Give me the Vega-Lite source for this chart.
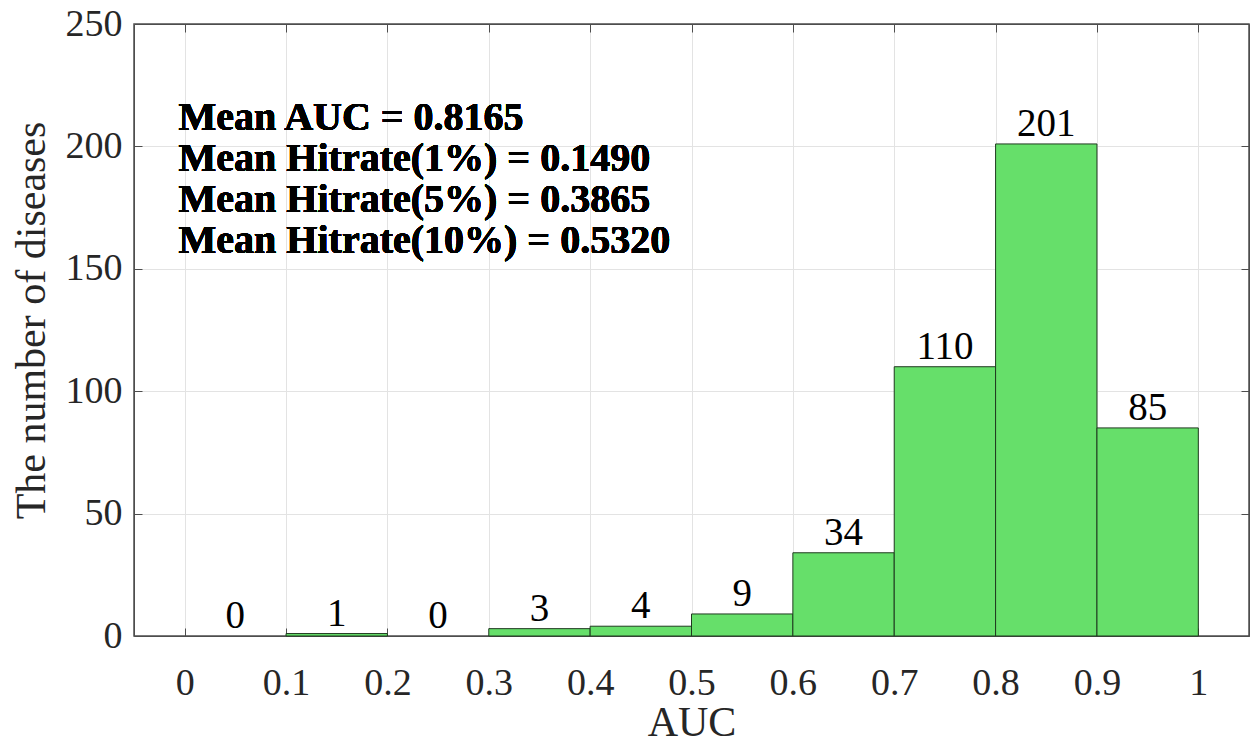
{
  "$schema": "https://vega.github.io/schema/vega-lite/v6.json",
  "autosize": "none",
  "width": 1115,
  "height": 612,
  "padding": {"left": 134, "top": 24, "right": 6, "bottom": 108},
  "background": "white",
  "config": {
    "font": "Liberation Serif",
    "view": {"stroke": "#4d4d4d", "strokeWidth": 1.5},
    "axis": {
      "labelFont": "Liberation Serif",
      "titleFont": "Liberation Serif",
      "labelFontSize": 38,
      "titleFontSize": 42,
      "labelColor": "#262626",
      "titleColor": "#262626",
      "titleFontWeight": "normal",
      "domainColor": "#4d4d4d",
      "tickColor": "#4d4d4d",
      "gridColor": "#e3e3e3",
      "gridWidth": 1
    }
  },
  "data": {
    "values": [
      {"bin_start": 0.0, "bin_end": 0.1, "count": 0},
      {"bin_start": 0.1, "bin_end": 0.2, "count": 1},
      {"bin_start": 0.2, "bin_end": 0.3, "count": 0},
      {"bin_start": 0.3, "bin_end": 0.4, "count": 3},
      {"bin_start": 0.4, "bin_end": 0.5, "count": 4},
      {"bin_start": 0.5, "bin_end": 0.6, "count": 9},
      {"bin_start": 0.6, "bin_end": 0.7, "count": 34},
      {"bin_start": 0.7, "bin_end": 0.8, "count": 110},
      {"bin_start": 0.8, "bin_end": 0.9, "count": 201},
      {"bin_start": 0.9, "bin_end": 1.0, "count": 85}
    ]
  },
  "resolve": {"axis": {"x": "independent", "y": "independent"}},
  "layer": [
    {
      "mark": {"type": "bar", "fill": "#66df6a", "stroke": "#1f3a1f", "strokeWidth": 1},
      "transform": [{"filter": "datum.count > 0"}],
      "encoding": {
        "x": {
          "field": "bin_start", "type": "quantitative",
          "scale": {"domain": [-0.05, 1.05], "nice": false, "zero": false},
          "axis": {
            "title": "AUC", "values": [0, 0.1, 0.2, 0.3, 0.4, 0.5, 0.6, 0.7, 0.8, 0.9, 1],
            "labelExpr": "format(datum.value, '')",
            "grid": true, "tickSize": -8, "labelPadding": 36, "titlePadding": 0,
            "domain": true
          }
        },
        "x2": {"field": "bin_end"},
        "y": {
          "field": "count", "type": "quantitative",
          "scale": {"domain": [0, 250], "nice": false},
          "axis": {
            "title": "The number of diseases", "values": [0, 50, 100, 150, 200, 250],
            "grid": true, "tickSize": -8, "labelPadding": 20, "titlePadding": 12, "titleY": 296
          }
        },
        "y2": {"datum": 0}
      }
    },
    {
      "mark": {"type": "text", "baseline": "alphabetic", "dy": -8, "fontSize": 39, "color": "#000000", "font": "Liberation Serif"},
      "transform": [{"calculate": "(datum.bin_start + datum.bin_end) / 2", "as": "mid"}],
      "encoding": {
        "x": {"field": "mid", "type": "quantitative",
          "axis": {"orient": "top", "labels": false, "title": null, "grid": false, "tickSize": -8, "values": [0, 0.1, 0.2, 0.3, 0.4, 0.5, 0.6, 0.7, 0.8, 0.9, 1]}},
        "y": {"field": "count", "type": "quantitative",
          "axis": {"orient": "right", "labels": false, "title": null, "grid": false, "tickSize": -8, "values": [0, 50, 100, 150, 200, 250]}},
        "text": {"field": "count", "type": "quantitative"}
      }
    },
    {
      "mark": {"type": "text", "align": "left", "baseline": "middle", "fontSize": 40, "fontWeight": "bold", "color": "#000000", "font": "Liberation Serif", "lineHeight": 41,
        "text": ["Mean AUC = 0.8165", "Mean Hitrate(1%) = 0.1490", "Mean Hitrate(5%) = 0.3865", "Mean Hitrate(10%) = 0.5320"]},
      "encoding": {
        "x": {"datum": -0.006, "type": "quantitative", "axis": null},
        "y": {"datum": 211.5, "type": "quantitative", "axis": null}
      }
    }
  ]
}
